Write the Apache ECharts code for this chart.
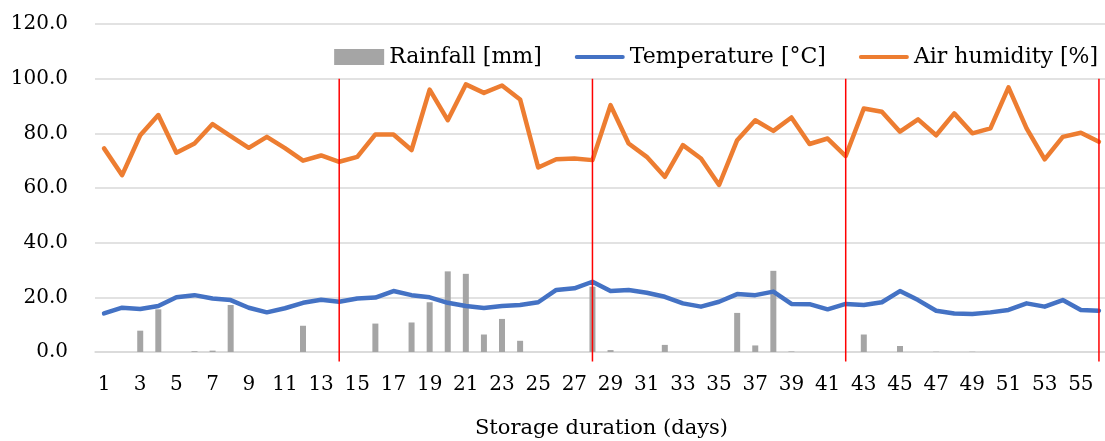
<!DOCTYPE html>
<html>
<head>
<meta charset="utf-8">
<script src="https://cdn.jsdelivr.net/npm/echarts@6/dist/echarts.min.js"></script>
<style>
html,body{margin:0;padding:0;background:#fff;}
#chart{width:1105px;height:441px;}
</style>
</head>
<body>
<div id="chart"></div>
<script>
const days = Array.from({length: 56}, (_, i) => String(i + 1));

const rainfall = [
  0, 0, 7.8, 15.6, 0, 0.3, 0.5, 17.2, 0, 0,
  0, 9.6, 0, 0, 0, 10.4, 0, 10.8, 18.2, 29.5,
  28.6, 6.4, 12.1, 4.1, 0, 0, 0, 23.9, 0.7, 0,
  0, 2.6, 0, 0, 0, 14.3, 2.4, 29.7, 0.2, 0,
  0, 0, 6.4, 0, 2.2, 0, 0.1, 0, 0.1, 0,
  0, 0, 0, 0, 0, 0
];

const temperature = [
  14.1, 16.2, 15.7, 16.8, 20.0, 20.8, 19.6, 19.0, 16.2, 14.5,
  16.0, 18.0, 19.1, 18.4, 19.6, 19.9, 22.3, 20.8, 20.0, 18.0,
  16.8, 16.1, 16.8, 17.2, 18.2, 22.7, 23.3, 25.7, 22.3, 22.7,
  21.7, 20.2, 17.8, 16.6, 18.4, 21.2, 20.8, 22.1, 17.6, 17.5,
  15.6, 17.6, 17.2, 18.2, 22.3, 19.0, 15.1, 14.1, 13.9, 14.5,
  15.4, 17.8, 16.6, 19.0, 15.4, 15.1
];

const humidity = [
  74.5, 64.7, 79.3, 86.7, 72.9, 76.3, 83.4, 79.0, 74.7, 78.7,
  74.6, 70.0, 71.9, 69.6, 71.4, 79.6, 79.6, 73.9, 96.0, 84.8,
  97.9, 94.8, 97.5, 92.4, 67.5, 70.5, 70.8, 70.2, 90.3, 76.3,
  71.4, 64.1, 75.7, 70.8, 61.1, 77.5, 84.8, 80.9, 85.8, 76.1,
  78.1, 71.7, 89.1, 87.9, 80.6, 85.1, 79.3, 87.3, 80.0, 81.8,
  96.8, 81.8, 70.5, 78.7, 80.2, 76.9
];

const boundaryDays = ['14', '28', '42', '56'];
const yTicks = [0, 20, 40, 60, 80, 100, 120];

const FONT = 'DejaVu Serif';
const LINE_ICON = 'path://M2,0 L50,0 A2,2 0 0 1 50,4 L2,4 A2,2 0 0 1 2,0 Z';
const chart = echarts.init(document.getElementById('chart'), null, {renderer: 'canvas'});

chart.setOption({
  animation: false,
  backgroundColor: '#ffffff',
  textStyle: {fontFamily: FONT, color: '#000'},
  grid: {left: 95, right: -3, top: 24, bottom: 89, containLabel: false, outerBoundsMode: 'none'},
  legend: {
    data: [
      {name: 'Rainfall [mm]', icon: 'rect'},
      {name: 'Temperature [°C]', icon: LINE_ICON},
      {name: 'Air humidity [%]', icon: LINE_ICON}
    ],
    right: 2,
    top: 41,
    itemWidth: 50,
    itemHeight: 16,
    itemGap: 33,
    textStyle: {fontFamily: FONT, fontSize: 22, color: '#000'}
  },
  xAxis: {
    type: 'category',
    data: days,
    boundaryGap: true,
    name: 'Storage duration (days)',
    nameLocation: 'middle',
    nameGap: 66,
    nameTextStyle: {fontFamily: FONT, fontSize: 21, color: '#000'},
    axisTick: {show: false},
    axisLine: {show: true, lineStyle: {color: '#d9d9d9', width: 1.5}},
    axisLabel: {interval: 1, fontFamily: FONT, fontSize: 20, color: '#000', margin: 23}
  },
  yAxis: {
    type: 'value',
    min: yTicks[0],
    max: yTicks[yTicks.length - 1],
    interval: 20,
    axisLine: {show: false},
    axisTick: {show: false},
    splitLine: {lineStyle: {color: '#d9d9d9', width: 1.5}},
    axisLabel: {fontFamily: FONT, fontSize: 20, color: '#000', margin: 27,
      formatter: v => v.toFixed(1)}
  },
  series: [
    {
      name: 'Rainfall [mm]',
      type: 'bar',
      data: rainfall,
      barWidth: 6,
      itemStyle: {color: '#a5a5a5'}
    },
    {
      name: 'Temperature [°C]',
      type: 'line',
      data: temperature,
      symbol: 'none',
      lineStyle: {color: '#4472c4', width: 4.5, cap: 'round', join: 'round'},
      itemStyle: {color: '#4472c4'}
    },
    {
      name: 'Air humidity [%]',
      type: 'line',
      data: humidity,
      symbol: 'none',
      lineStyle: {color: '#ed7d31', width: 4.5, cap: 'round', join: 'round'},
      itemStyle: {color: '#ed7d31'}
    },
    {
      name: 'boundaries',
      type: 'custom',
      silent: true,
      clip: false,
      z: 10,
      data: boundaryDays.map(d => [days.indexOf(d)]),
      renderItem: function (params, api) {
        const x = api.value(0);
        const p1 = api.coord([x, 100]);
        const p2 = api.coord([x, -3.5]);
        return {
          type: 'line',
          shape: {x1: p1[0], y1: p1[1], x2: p2[0], y2: p2[1]},
          style: {stroke: '#ff0000', lineWidth: 1.5}
        };
      }
    }
  ]
});
</script>
</body>
</html>
